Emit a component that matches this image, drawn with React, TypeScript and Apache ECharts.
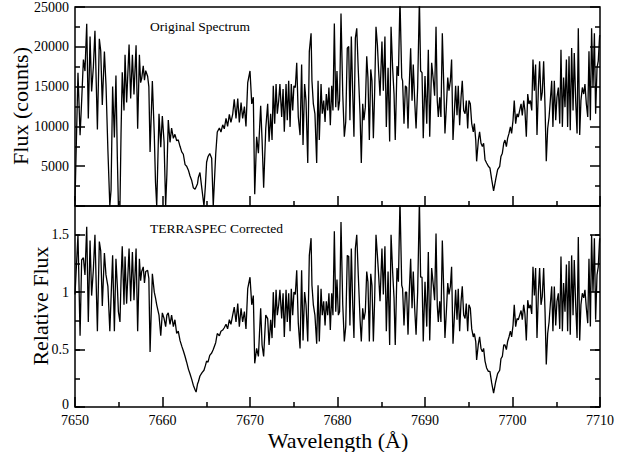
import React, { useEffect, useRef } from 'react';
import * as echarts from 'echarts';

// Wavelength grid (Å) shared by both spectra
const wavelength = [
  7650.00, 7650.34, 7650.58, 7650.76, 7650.96, 7651.14, 7651.34, 7651.52, 7651.72, 7651.90,
  7652.10, 7652.28, 7652.56, 7652.78, 7652.94, 7653.12, 7653.36, 7653.54, 7653.76, 7653.98,
  7654.12, 7654.30, 7654.50, 7654.68, 7654.84, 7654.96, 7655.14, 7655.26, 7655.40, 7655.60,
  7655.72, 7655.90, 7656.18, 7656.36, 7656.56, 7656.74, 7656.98, 7657.16, 7657.36, 7657.50,
  7657.62, 7657.80, 7657.94, 7658.08, 7658.30, 7658.44, 7658.58, 7658.84, 7659.06, 7659.20,
  7659.34, 7659.60, 7659.80, 7659.98, 7660.18, 7660.36, 7660.50, 7660.66, 7660.86, 7661.04,
  7661.24, 7661.42, 7661.62, 7661.80, 7662.00, 7662.20, 7662.38, 7662.58, 7662.76, 7662.96,
  7663.14, 7663.34, 7663.52, 7663.72, 7663.84, 7664.00, 7664.10, 7664.28, 7664.52, 7664.74,
  7664.90, 7665.04, 7665.20, 7665.40, 7665.62, 7665.80, 7666.08, 7666.26, 7666.50, 7666.68,
  7666.88, 7667.06, 7667.26, 7667.44, 7667.64, 7667.82, 7668.02, 7668.20, 7668.40, 7668.60,
  7668.78, 7668.98, 7669.16, 7669.36, 7669.54, 7669.74,
  7670.00, 7670.20, 7670.38, 7670.54, 7670.76, 7670.96, 7671.22, 7671.38, 7671.56, 7671.80,
  7672.02, 7672.18, 7672.36, 7672.52, 7672.66, 7672.82, 7672.98, 7673.12, 7673.28, 7673.42,
  7673.62, 7673.78, 7673.92, 7674.12, 7674.26, 7674.42, 7674.58, 7674.72, 7674.88, 7675.02,
  7675.18, 7675.34, 7675.52, 7675.72, 7675.90, 7676.06, 7676.24, 7676.40, 7676.60, 7676.78,
  7676.98, 7677.08, 7677.24, 7677.42, 7677.62, 7677.78, 7677.92, 7678.12, 7678.26, 7678.42,
  7678.58, 7678.72, 7678.88, 7679.02, 7679.18, 7679.34, 7679.48, 7679.64, 7679.80, 7679.94,
  7680.10, 7680.24, 7680.40, 7680.60, 7680.78, 7680.94, 7681.12, 7681.28, 7681.42, 7681.58,
  7681.74, 7681.88, 7682.04, 7682.20, 7682.38, 7682.58, 7682.72, 7682.88, 7683.02, 7683.18,
  7683.34, 7683.48, 7683.64, 7683.80, 7683.94, 7684.10, 7684.24, 7684.40, 7684.56, 7684.70,
  7684.86, 7685.08, 7685.24, 7685.42, 7685.58, 7685.78, 7685.96, 7686.12, 7686.30, 7686.46,
  7686.60, 7686.80, 7686.96, 7687.14, 7687.34, 7687.44, 7687.60, 7687.76, 7687.90, 7688.06,
  7688.20, 7688.36, 7688.52, 7688.66, 7688.82, 7688.98, 7689.16, 7689.36, 7689.50, 7689.66,
  7689.80,
  7690.00, 7690.20, 7690.38, 7690.54, 7690.76, 7690.96, 7691.10, 7691.26, 7691.40, 7691.52,
  7691.68, 7691.82, 7691.98, 7692.14, 7692.28, 7692.44, 7692.60, 7692.74, 7692.90, 7693.04,
  7693.20, 7693.36, 7693.50, 7693.66, 7693.80, 7693.96, 7694.12, 7694.26, 7694.42, 7694.58,
  7694.72, 7694.88, 7695.02, 7695.18, 7695.34, 7695.52, 7695.64, 7695.80, 7695.90, 7696.10,
  7696.24, 7696.40, 7696.56, 7696.70, 7696.86, 7697.04, 7697.24, 7697.42, 7697.62, 7697.84,
  7698.08, 7698.30, 7698.54, 7698.68, 7698.84, 7699.00, 7699.14, 7699.30, 7699.44, 7699.60,
  7699.76, 7699.90, 7700.06, 7700.20, 7700.36, 7700.52, 7700.66, 7700.82, 7700.98, 7701.12,
  7701.28, 7701.42, 7701.58, 7701.74, 7701.88, 7702.04, 7702.20, 7702.34, 7702.50, 7702.64,
  7702.80, 7702.96, 7703.10, 7703.26, 7703.40, 7703.56, 7703.72, 7703.86, 7704.02, 7704.18,
  7704.32, 7704.48, 7704.62, 7704.78, 7704.94, 7705.08, 7705.24, 7705.40, 7705.54, 7705.70,
  7705.84, 7706.00, 7706.16, 7706.30, 7706.46, 7706.60, 7706.76, 7706.92, 7707.06, 7707.22,
  7707.38, 7707.52, 7707.68, 7707.82, 7707.98, 7708.14, 7708.28, 7708.44, 7708.60, 7708.74,
  7708.90, 7709.04, 7709.20, 7709.36, 7709.50, 7709.66, 7709.80, 7709.96,
];

// Original spectrum (counts)
const rawCounts = [
  600, 16750, 8900, 13200, 18400, 16950, 22900, 11000, 21300, 14400,
  17500, 22000, 9600, 21000, 19500, 12700, 19400, 15300, 7000, 0,
  2000, 15000, 8600, 16400, 6000, 0, 0, 9000, 16800, 12000,
  19000, 13000, 20300, 13500, 19000, 14000, 20200, 9700, 19000, 15500,
  16000, 17600, 15800, 17000, 16300, 15000, 6800, 15700, 9000, 3000,
  0, 11600, 7400, 11300, 8000, 0, 4000, 10800, 8000, 9800,
  8500, 9000, 8200, 8300, 7500, 6800, 6500, 5200, 5000, 4500,
  3800, 3200, 2300, 2100, 2400, 2800, 3600, 4200, 2000, 0,
  2500, 5500, 6200, 6600, 6000, 0, 6500, 9300, 9800, 9300,
  10200, 9700, 11000, 10000, 11500, 10500, 11500, 13400, 11000, 13500,
  10500, 13000, 11000, 12500, 10000, 15500,
  16960, 12830, 13660, 1490, 8700, 6640, 12600, 8290, 2310, 9740,
  12830, 8090, 11590, 8290, 15100, 10350, 15310, 11590, 13240, 15310,
  11180, 14690, 9320, 15310, 10770, 15720, 9940, 15310, 12000, 15100,
  14890, 17990, 11180, 8910, 17780, 7670, 15310, 13240, 5400, 19430,
  21700, 15720, 12830, 11590, 5400, 15720, 8290, 15310, 11590, 13240,
  10560, 14070, 12000, 14890, 10150, 15100, 12000, 22940, 12420, 16960,
  12000, 13240, 24170, 14070, 8700, 10560, 19840, 20050, 10770, 21290,
  14070, 8700, 21080, 22320, 16960, 11390, 5400, 12830, 10770, 12420,
  18800, 16130, 8290, 17160, 15720, 8500, 14070, 22520, 20260, 16960,
  13860, 20670, 14480, 21290, 9940, 17370, 8090, 22520, 17370, 14070,
  8290, 17580, 16340, 26000, 16130, 15720, 10350, 15100, 14890, 9740,
  15100, 19800, 13240, 17780, 13240, 9740, 14890, 26000, 16960, 16750,
  8500,
  16340, 10350, 19640, 8700, 17990, 15720, 13860, 22520, 13240, 11180,
  13660, 11180, 21700, 15310, 9120, 12420, 16130, 14480, 15720, 18400,
  8290, 11800, 15100, 11390, 15100, 10150, 13660, 15720, 12000, 11590,
  13240, 9740, 13240, 12830, 10350, 9320, 10350, 8290, 5610, 8290,
  9320, 7880, 7470, 7880, 5820, 5400, 4990, 4780, 3340, 1900,
  3340, 4580, 4990, 6230, 6640, 7880, 8290, 7470, 8500, 9120,
  9940, 9120, 10770, 13240, 10350, 11590, 11180, 12000, 12830, 11390,
  13240, 12000, 8700, 14070, 12830, 13240, 12000, 18400, 14480, 17780,
  8910, 14890, 18190, 13240, 14270, 18190, 12420, 5610, 9740, 11180,
  13240, 15720, 9940, 15720, 10770, 13660, 14890, 10350, 19640, 9940,
  16130, 12420, 18400, 9940, 18810, 9530, 19840, 12000, 19220, 13240,
  9120, 22320, 8910, 13240, 14890, 14070, 15310, 12830, 11180, 19430,
  10770, 22320, 14890, 21700, 11590, 17370, 18190, 21490,
];

// TERRASPEC corrected spectrum (relative flux)
const relativeFlux = [
  0.98, 1.50, 0.62, 1.28, 1.30, 1.15, 1.57, 0.74, 1.45, 0.97,
  1.20, 1.50, 0.66, 1.44, 1.36, 0.88, 1.34, 1.15, 1.05, 0.66,
  0.95, 1.32, 0.66, 1.29, 1.05, 0.83, 0.74, 1.10, 1.40, 0.89,
  1.31, 0.90, 1.38, 0.92, 1.35, 0.93, 1.38, 0.66, 1.29, 1.10,
  1.18, 1.22, 1.08, 1.18, 1.19, 1.12, 0.48, 1.16, 1.00, 0.95,
  0.89, 0.80, 0.62, 0.82, 0.77, 0.70, 0.80, 0.82, 0.72, 0.80,
  0.70, 0.76, 0.64, 0.66, 0.58, 0.53, 0.49, 0.44, 0.39, 0.33,
  0.29, 0.24, 0.19, 0.15, 0.13, 0.20, 0.22, 0.27, 0.30, 0.32,
  0.36, 0.40, 0.39, 0.45, 0.47, 0.50, 0.56, 0.64, 0.62, 0.66,
  0.67, 0.69, 0.72, 0.68, 0.76, 0.72, 0.80, 0.87, 0.74, 0.90,
  0.70, 0.86, 0.74, 0.83, 0.68, 1.03,
  1.13, 0.89, 0.97, 0.38, 0.51, 0.44, 0.86, 0.54, 0.44, 0.80,
  0.77, 0.54, 0.76, 0.60, 1.00, 0.69, 1.02, 0.80, 0.89, 1.02,
  0.77, 0.99, 0.61, 1.02, 0.74, 0.99, 0.66, 1.03, 0.80, 1.00,
  0.98, 1.19, 0.73, 0.51, 1.19, 0.58, 1.00, 0.89, 0.57, 1.32,
  1.47, 1.06, 0.89, 0.80, 0.55, 1.06, 0.57, 1.03, 0.80, 0.92,
  0.71, 0.92, 0.80, 0.99, 0.67, 0.99, 0.80, 1.53, 0.83, 1.11,
  0.80, 0.83, 1.61, 0.89, 0.57, 0.70, 1.32, 1.31, 0.71, 1.38,
  0.89, 0.60, 1.38, 1.50, 1.14, 0.76, 0.57, 0.86, 0.76, 0.83,
  1.18, 1.09, 0.57, 1.16, 1.06, 0.57, 0.92, 1.50, 1.32, 1.15,
  0.92, 1.38, 0.98, 1.40, 0.66, 1.18, 0.54, 1.50, 1.18, 0.95,
  0.54, 1.21, 1.09, 1.80, 1.06, 1.03, 0.71, 1.00, 1.00, 0.63,
  1.00, 1.29, 0.86, 1.18, 0.86, 0.63, 1.00, 1.80, 1.13, 1.13,
  0.57,
  1.09, 0.70, 1.35, 0.58, 1.21, 1.05, 0.93, 1.51, 0.89, 0.74,
  0.92, 0.74, 1.45, 1.02, 0.60, 0.83, 1.08, 0.98, 1.05, 1.22,
  0.55, 0.79, 1.02, 0.76, 1.03, 0.66, 0.92, 1.05, 0.80, 0.77,
  0.90, 0.66, 0.89, 0.86, 0.68, 0.61, 0.64, 0.57, 0.41, 0.55,
  0.61, 0.51, 0.48, 0.51, 0.40, 0.34, 0.31, 0.31, 0.21, 0.12,
  0.22, 0.29, 0.32, 0.42, 0.44, 0.54, 0.54, 0.50, 0.57, 0.61,
  0.66, 0.61, 0.71, 0.89, 0.70, 0.77, 0.76, 0.80, 0.84, 0.76,
  0.89, 0.81, 0.58, 0.93, 0.86, 0.89, 0.81, 1.22, 0.97, 1.21,
  0.60, 1.00, 1.21, 0.89, 0.96, 1.21, 0.83, 0.37, 0.64, 0.74,
  0.89, 1.05, 0.66, 1.05, 0.71, 0.92, 0.99, 0.68, 1.31, 0.66,
  1.08, 0.83, 1.24, 0.66, 1.27, 0.63, 1.32, 0.80, 1.28, 0.89,
  0.60, 1.48, 0.58, 0.89, 0.99, 0.95, 1.02, 0.86, 0.73, 1.29,
  0.70, 1.50, 1.00, 1.47, 0.76, 1.15, 1.22, 1.47,
];

const xRange = [7650, 7710];
const countsRange = [0, 25000];
const relRange = [0, 1.75];

const SERIF = 'Liberation Serif, Times New Roman, Times, DejaVu Serif, serif';

export default function App() {
  const ref = useRef<HTMLDivElement>(null);

  useEffect(() => {
    document.body.style.margin = '0';
    const chart = echarts.init(ref.current!, null, { renderer: 'svg' });
    const tickLine = { color: '#000', width: 1.5 };
    const labelStyle = { color: '#000', fontSize: 14, fontFamily: SERIF };

    const yAx = (gridIndex: number, position: string, range: number[], interval: number, len: number, labels: boolean, minor: boolean, hide: number[]) => ({
      type: 'value',
      gridIndex,
      position,
      min: range[0],
      max: range[1],
      interval,
      axisLine: { show: false },
      axisTick: { show: true, inside: true, length: len, lineStyle: tickLine },
      minorTick: { show: minor, splitNumber: 2, length: 5, lineStyle: tickLine },
      splitLine: { show: false },
      axisLabel: {
        show: labels,
        margin: 6,
        lineHeight: 11,
        ...labelStyle,
        formatter: (v: number) => (hide.some((h) => Math.abs(h - v) < 1e-9) ? '' : String(v)),
      },
    });

    const xAx = (gridIndex: number, labels: boolean) => ({
      type: 'value',
      gridIndex,
      position: 'bottom',
      min: xRange[0],
      max: xRange[1],
      interval: 10,
      axisLine: { show: false },
      axisTick: { show: true, inside: true, length: 10, lineStyle: tickLine },
      minorTick: { show: true, splitNumber: 2, length: 5, lineStyle: tickLine },
      splitLine: { show: false },
      axisLabel: { show: labels, margin: 7, lineHeight: 12, ...labelStyle, formatter: (v: number) => String(v) },
    });

    const txt = (text: string, size: number, align: string) => ({
      text, fontSize: size, fontFamily: SERIF, fill: '#000',
      align, verticalAlign: 'middle', textAlign: align, textVerticalAlign: 'middle',
    });

    chart.setOption({
      animation: false,
      backgroundColor: '#fff',
      textStyle: { fontFamily: SERIF },
      grid: [
        { left: 75, top: 5, width: 525, height: 201, show: true, borderColor: '#000', borderWidth: 1.5, backgroundColor: 'transparent' },
        { left: 75, top: 206, width: 525, height: 201, show: true, borderColor: '#000', borderWidth: 1.5, backgroundColor: 'transparent' },
      ],
      xAxis: [xAx(0, false), xAx(1, true)],
      yAxis: [
        yAx(0, 'left', countsRange, 5000, 10, true, true, [0]),
        yAx(0, 'right', countsRange, 5000, 10, false, true, []),
        yAx(1, 'left', relRange, 0.5, 10, true, false, [0, 1.75]),
        yAx(1, 'left', relRange, 0.25, 5, false, false, []),
        yAx(1, 'right', relRange, 0.5, 10, false, false, []),
        yAx(1, 'right', relRange, 0.25, 5, false, false, []),
      ],
      series: [
        {
          type: 'line',
          xAxisIndex: 0,
          yAxisIndex: 0,
          data: wavelength.map((w, i) => [w, rawCounts[i]]),
          showSymbol: false,
          symbol: 'none',
          clip: true,
          silent: true,
          lineStyle: { color: '#000', width: 1.3 },
        },
        {
          type: 'line',
          xAxisIndex: 1,
          yAxisIndex: 2,
          data: wavelength.map((w, i) => [w, relativeFlux[i]]),
          showSymbol: false,
          symbol: 'none',
          clip: true,
          silent: true,
          lineStyle: { color: '#000', width: 1.3 },
        },
      ],
      graphic: [
        { type: 'text', x: 20, y: 106, rotation: Math.PI / 2, style: txt('Flux (counts)', 22, 'center') },
        { type: 'text', x: 40, y: 306, rotation: Math.PI / 2, style: txt('Relative Flux', 22, 'center') },
        { type: 'text', x: 338, y: 440, style: txt('Wavelength (Å)', 22, 'center') },
        { type: 'text', x: 150, y: 26, style: txt('Original Spectrum', 13.5, 'left') },
        { type: 'text', x: 150, y: 228, style: txt('TERRASPEC Corrected', 13.5, 'left') },
        { type: 'text', x: 69, y: 404.5, style: txt('0', 14, 'right') },
      ],
    });

    return () => chart.dispose();
  }, []);

  return <div ref={ref} style={{ position: 'absolute', left: 0, top: 0, width: 632, height: 452 }} />;
}
